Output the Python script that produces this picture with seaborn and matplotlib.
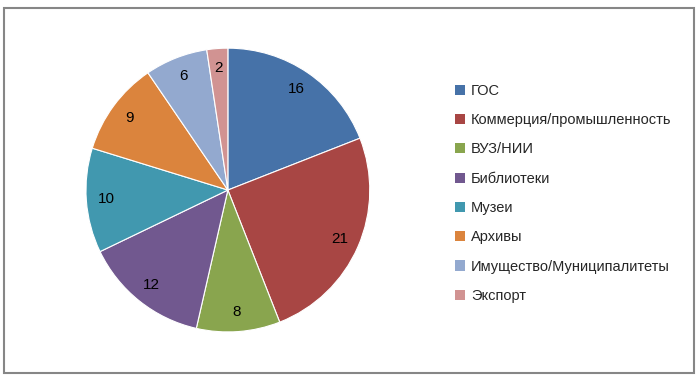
import seaborn as sns
import matplotlib.pyplot as plt
from matplotlib.patches import Rectangle, Patch

categories = [
    "ГОС",
    "Коммерция/промышленность",
    "ВУЗ/НИИ",
    "Библиотеки",
    "Музеи",
    "Архивы",
    "Имущество/Муниципалитеты",
    "Экспорт",
]
values = [16, 21, 8, 12, 10, 9, 6, 2]
colors = sns.color_palette(
    ["#4672A8", "#A84644", "#89A54E", "#71588F", "#4198AF", "#DB843D", "#93A9CF", "#D19392"]
)

sns.set_theme(style="white")
plt.rcParams["font.family"] = ["Liberation Sans", "DejaVu Sans"]

fig = plt.figure(figsize=(6.99, 3.82), dpi=100)
ax = fig.add_axes([0.123, 0.131, 0.406, 0.743])

total = sum(values)
wedges, texts, autotexts = ax.pie(
    values,
    colors=colors,
    startangle=90,
    counterclock=False,
    autopct=lambda p: f"{round(p * total / 100)}",
    pctdistance=0.86,
    wedgeprops=dict(edgecolor="white", linewidth=0.8),
    textprops=dict(fontsize=11, color="black"),
)
ax.set_xlim(-1, 1)
ax.set_ylim(-1, 1)

handles = [Patch(facecolor=c, edgecolor="none") for c in colors]
fig.legend(
    handles,
    categories,
    loc="upper left",
    bbox_to_anchor=(0.632, 0.815),
    frameon=False,
    fontsize=10.5,
    handlelength=0.7,
    handleheight=0.7,
    handletextpad=0.4,
    labelspacing=1.05,
)

# chart area border
fig.patches.append(
    Rectangle(
        (4 / 699, 9 / 382), 690 / 699, 365 / 382,
        transform=fig.transFigure, fill=False, edgecolor="#868686", linewidth=1.5,
    )
)

fig.savefig("out.png", dpi=100)
